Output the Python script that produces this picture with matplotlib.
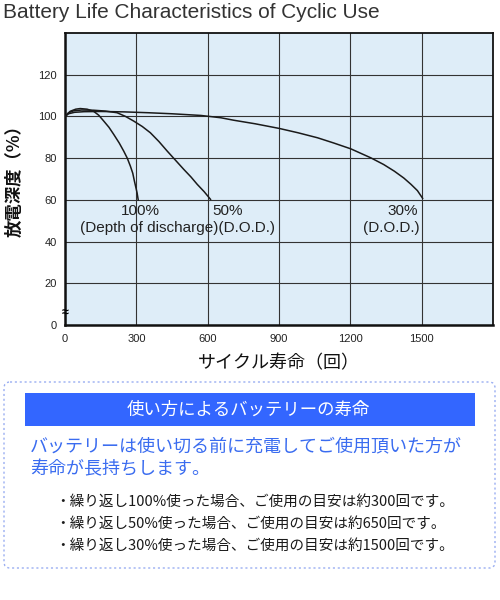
import matplotlib

matplotlib.use("Agg")
import matplotlib.pyplot as plt
from matplotlib.patches import FancyBboxPatch, Rectangle

plt.rcParams["font.family"] = ["Liberation Sans", "Noto Sans CJK JP", "DejaVu Sans"]

JP = ["Noto Sans CJK JP", "DejaVu Sans"]

# 放電深度別のサイクル寿命カーブ
dod100_cycles = [0, 22, 45, 64, 93, 120, 142, 163, 185, 205, 228, 247, 262, 275, 285, 292, 298, 303, 308]
dod100_capacity = [100, 102.5, 103.5, 103.8, 103.5, 102.5, 100.6, 97.8, 94.8, 91.4, 87.3, 83.4, 80.0, 76.2, 72.8, 69.0, 66.0, 63.5, 60.0]

dod50_cycles = [0, 15, 36, 70, 120, 170, 219, 255, 289, 325, 359, 395, 430, 465, 500, 530, 556, 585, 612]
dod50_capacity = [100, 101.8, 102.7, 103.1, 103.0, 102.6, 101.8, 100.0, 97.8, 95.2, 92.2, 88.0, 83.4, 79.0, 74.6, 71.0, 67.5, 64.0, 60.3]

dod30_cycles = [0, 15, 40, 80, 150, 250, 350, 450, 571, 655, 710, 800, 900, 980, 1062, 1130, 1202,
                1286, 1340, 1385, 1425, 1455, 1482, 1504]
dod30_capacity = [100, 101.3, 102.0, 102.3, 102.4, 102.2, 101.8, 101.3, 100.5, 99.4, 98.2, 96.5, 94.3, 92.2,
                  89.8, 87.3, 84.5, 80.2, 77.0, 73.8, 70.5, 67.5, 64.5, 60.8]

x_ticks = [0, 300, 600, 900, 1200, 1500]
y_ticks = [0, 20, 40, 60, 80, 100, 120]

title = "Battery Life Characteristics of Cyclic Use"
x_label = "サイクル寿命（回）"
y_label = "放電深度（%）"
box_header = "使い方によるバッテリーの寿命"
box_lead = ["バッテリーは使い切る前に充電してご使用頂いた方が", "寿命が長持ちします。"]
box_bullets = [
    "・繰り返し100%使った場合、ご使用の目安は約300回です。",
    "・繰り返し50%使った場合、ご使用の目安は約650回です。",
    "・繰り返し30%使った場合、ご使用の目安は約1500回です。",
]

fig = plt.figure(figsize=(5, 6), dpi=100)
fig.patch.set_facecolor("white")

# 背景用の全面レイヤー（ピクセル座標）
bg = fig.add_axes([0, 0, 1, 1])
bg.set_xlim(0, 500)
bg.set_ylim(600, 0)
bg.axis("off")

ax = fig.add_axes([0.13, 0.458, 0.856, 0.487])
ax.set_facecolor("#deedf8")
for curve_x, curve_y in [
    (dod100_cycles, dod100_capacity),
    (dod50_cycles, dod50_capacity),
    (dod30_cycles, dod30_capacity),
]:
    ax.plot(curve_x, curve_y, color="#1a1a1a", linewidth=1.1, solid_joinstyle="round", zorder=3)

ax.set_xlim(0, 1800)
ax.set_ylim(0, 140)
ax.set_xticks(x_ticks)
ax.set_yticks(y_ticks)
ax.tick_params(length=0, labelsize=8, pad=6, colors="#222222")
ax.grid(color="#333333", linewidth=0.8)
ax.set_axisbelow(True)
for side in ["left", "bottom"]:
    ax.spines[side].set_linewidth(1.8)
for side in ["top", "right"]:
    ax.spines[side].set_linewidth(1.3)
ax.spines[:].set_color("#111111")

ax.text(0, 6, "≈", fontsize=9, ha="center", va="center", weight="bold", clip_on=False, zorder=5)

ax.text(315, 54.5, "100%", fontsize=11, ha="center", va="center", color="#222222")
ax.text(475, 46.5, "(Depth of discharge)(D.O.D.)", fontsize=11, ha="center", va="center", color="#222222")
ax.text(620, 54.5, "50%", fontsize=11, ha="left", va="center", color="#222222")
ax.text(1485, 54.5, "30%", fontsize=11, ha="right", va="center", color="#222222")
ax.text(1492, 46.5, "(D.O.D.)", fontsize=11, ha="right", va="center", color="#222222")

ax.set_xlabel(x_label, fontsize=13, family=JP, labelpad=8, color="#111111")
bg.text(15, 177, y_label, fontsize=12.5, family=JP, rotation=90, ha="center", va="center",
        color="#111111", weight="bold")

bg.text(3, 13, title, fontsize=15, ha="left", va="center", color="#333333")

# 説明ボックス
bg.add_patch(
    FancyBboxPatch(
        (4, 382), 491, 186,
        boxstyle="round,pad=0,rounding_size=6",
        fc="white", ec="#9aaef2", linewidth=1.0, linestyle=(0, (1.5, 2)),
    )
)
bg.add_patch(Rectangle((25, 393), 450, 33, fc="#3366ff", ec="none"))
bg.text(248, 409.5, box_header, fontsize=12.5, family=JP, ha="center", va="center", color="white")
for i, line in enumerate(box_lead):
    bg.text(30, 446 + i * 23, line, fontsize=13, family=JP, ha="left", va="center", color="#3a6cf0")
for i, line in enumerate(box_bullets):
    bg.text(55, 502 + i * 22, line, fontsize=10.5, family=JP, ha="left", va="center", color="#1a1a1a")

fig.savefig("out.png", dpi=100)
plt.close(fig)
